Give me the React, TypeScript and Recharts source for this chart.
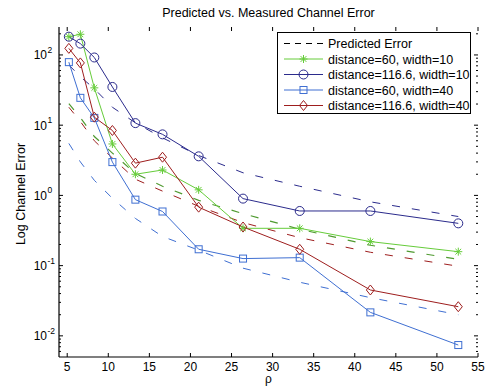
import { LineChart, Line, XAxis, YAxis, Legend } from 'recharts';

const rho = [5.2, 6.6, 8.3, 10.5, 13.3, 16.6, 21, 26.4, 33.3, 41.9, 52.6];

// predicted error curves (dashed)
const predNavy = [72, 49, 33, 18, 10.8, 6.6, 3.7, 2.1, 1.35, 0.81, 0.5];
const predGreen = [20.3, 12.8, 6.9, 4.0, 2.05, 1.35, 0.85, 0.55, 0.33, 0.195, 0.123];
const predRed = [18, 11.3, 6.0, 3.4, 1.7, 1.15, 0.7, 0.41, 0.25, 0.155, 0.098];
const predBlue = [5.5, 3.0, 1.64, 0.91, 0.47, 0.26, 0.166, 0.092, 0.058, 0.035, 0.02];

// measured
const d60w10 = [182, 197, 34, 5.4, 2.0, 2.3, 1.2, 0.34, 0.34, 0.22, 0.158];
const d116w10 = [182, 145, 92, 35, 10.7, 7.4, 3.6, 0.9, 0.6, 0.6, 0.4];
const d60w40 = [79, 24.5, 12.7, 2.98, 0.87, 0.59, 0.171, 0.126, 0.13, 0.0216, 0.0074];
const d116w40 = [124, 77, 13, 8.4, 2.88, 3.5, 0.68, 0.355, 0.171, 0.045, 0.026];

const xTicks = [5, 10, 15, 20, 25, 30, 35, 40, 45, 50, 55];
const yMajor = [0.01, 0.1, 1, 10, 100];
const yMinor = [0.006, 0.007, 0.008, 0.009, 0.02, 0.03, 0.04, 0.05, 0.06, 0.07, 0.08, 0.09,
  0.2, 0.3, 0.4, 0.5, 0.6, 0.7, 0.8, 0.9, 2, 3, 4, 5, 6, 7, 8, 9,
  20, 30, 40, 50, 60, 70, 80, 90, 200];

const legendNames = ['Predicted Error', 'distance=60, width=10', 'distance=116.6, width=10', 'distance=60, width=40', 'distance=116.6, width=40'];

const NAVY = '#2b2b8c';
const GREEN = '#66cc3a';
const GREEN_D = '#4f9a30';
const BLUE = '#3f6fd2';
const RED = '#9e1e1e';
const FONT = 'Liberation Sans, Arial, Helvetica, sans-serif';

const W = 487, H = 386;
const PL = 59, PR = 478, PT = 27, PB = 357;

const data = rho.map((r, i) => ({
  rho: r,
  pNavy: predNavy[i], pGreen: predGreen[i], pRed: predRed[i], pBlue: predBlue[i],
  a: d60w10[i], b: d116w10[i], c: d60w40[i], d: d116w40[i],
}));

function Star({ cx, cy, color, s = 4 }: any) {
  const k = s * 0.72;
  return (
    <g stroke={color} strokeWidth={1}>
      <line x1={cx - s} y1={cy} x2={cx + s} y2={cy} />
      <line x1={cx} y1={cy - s} x2={cx} y2={cy + s} />
      <line x1={cx - k} y1={cy - k} x2={cx + k} y2={cy + k} />
      <line x1={cx - k} y1={cy + k} x2={cx + k} y2={cy - k} />
    </g>
  );
}
function Circ({ cx, cy, color }: any) {
  return <circle cx={cx} cy={cy} r={4.5} fill="none" stroke={color} strokeWidth={1} />;
}
function Sq({ cx, cy, color }: any) {
  return <rect x={cx - 3.5} y={cy - 3.5} width={7} height={7} fill="none" stroke={color} strokeWidth={1} />;
}
function Dia({ cx, cy, color }: any) {
  return <path d={`M${cx},${cy - 5}L${cx + 4},${cy}L${cx},${cy + 5}L${cx - 4},${cy}Z`} fill="none" stroke={color} strokeWidth={1} />;
}

const mk = (Shape: any, color: string) => (p: any) =>
  p.cx == null || p.cy == null ? null : <Shape key={`${p.dataKey}-${p.index}`} cx={p.cx} cy={p.cy} color={color} />;

function XTick({ x, payload }: any) {
  return (
    <g>
      <line x1={x} y1={PB} x2={x} y2={PB - 4} stroke="#000" />
      <line x1={x} y1={PT} x2={x} y2={PT + 4} stroke="#000" />
      <text x={x} y={371} textAnchor="middle" fontSize={12} fontFamily={FONT} fill="#000">{payload.value}</text>
    </g>
  );
}

function YTick({ y, payload }: any) {
  const v = payload.value;
  const e = Math.round(Math.log10(v));
  const major = Math.abs(Math.log10(v) - e) < 1e-6;
  const len = major ? 4 : 2;
  return (
    <g>
      <line x1={PL} y1={y} x2={PL + len} y2={y} stroke="#000" />
      <line x1={PR} y1={y} x2={PR - len} y2={y} stroke="#000" />
      {major && (
        <g fontFamily={FONT} fill="#000">
          <text x={47} y={y + 4.5} textAnchor="end" fontSize={12}>10</text>
          <text x={47.5} y={y - 2} fontSize={8.5}>{e}</text>
        </g>
      )}
    </g>
  );
}

function LegendBox() {
  const rows = [10.5, 26, 41.5, 57, 72.5];
  const colors = ['#000', GREEN, NAVY, BLUE, RED];
  const shapes = [null, Star, Circ, Sq, Dia];
  return (
    <div style={{ width: 194, height: 82, border: '1px solid #000', background: '#fff', boxSizing: 'border-box' }}>
      <svg width={192} height={80} style={{ display: 'block' }}>
        {legendNames.map((n, i) => {
          const S: any = shapes[i];
          return (
            <g key={n}>
              <line x1={6} x2={45} y1={rows[i]} y2={rows[i]} stroke={colors[i]} strokeWidth={1}
                strokeDasharray={i === 0 ? '6 5' : undefined} />
              {S && <S cx={25.5} cy={rows[i]} color={colors[i]} />}
              <text x={50} y={rows[i] + 4.5} fontSize={12.5} fontFamily={FONT} fill="#000">{n}</text>
            </g>
          );
        })}
      </svg>
    </div>
  );
}

export default function App() {
  const dash = '8 12';
  return (
    <div style={{ position: 'absolute', left: 0, top: 0, width: W, height: H, background: '#fff' }}>
      <LineChart width={W} height={H} data={data} margin={{ top: PT, right: W - PR, bottom: 0, left: 0 }}>
        <XAxis dataKey="rho" type="number" domain={[4, 55]} ticks={xTicks} allowDataOverflow
          height={H - PB} tickLine={false} tick={<XTick />} axisLine={{ stroke: '#000', strokeWidth: 1.2 }} interval={0} />
        <XAxis xAxisId="top" orientation="top" type="number" domain={[4, 55]} allowDataOverflow
          height={0} tick={false} tickLine={false} axisLine={{ stroke: '#000' }} />
        <YAxis scale="log" type="number" domain={[0.005, 250]} allowDataOverflow ticks={[...yMajor, ...yMinor]}
          width={PL} tickLine={false} tick={<YTick />} axisLine={{ stroke: '#000', strokeWidth: 1.2 }} interval={0} />
        <YAxis yAxisId="right" orientation="right" scale="log" type="number" domain={[0.005, 250]} allowDataOverflow
          width={0} tick={false} tickLine={false} axisLine={{ stroke: '#000' }} />

        <Line dataKey="pNavy" stroke={NAVY} strokeDasharray={dash} dot={false} isAnimationActive={false} strokeWidth={1} />
        <Line dataKey="pGreen" stroke={GREEN_D} strokeDasharray={dash} dot={false} isAnimationActive={false} strokeWidth={1.2} />
        <Line dataKey="pRed" stroke={RED} strokeDasharray={dash} dot={false} isAnimationActive={false} strokeWidth={1} />
        <Line dataKey="pBlue" stroke={BLUE} strokeDasharray={dash} dot={false} isAnimationActive={false} strokeWidth={1} />

        <Line dataKey="a" stroke={GREEN} dot={mk(Star, GREEN)} isAnimationActive={false} strokeWidth={1} />
        <Line dataKey="b" stroke={NAVY} dot={mk(Circ, NAVY)} isAnimationActive={false} strokeWidth={1} />
        <Line dataKey="c" stroke={BLUE} dot={mk(Sq, BLUE)} isAnimationActive={false} strokeWidth={1} />
        <Line dataKey="d" stroke={RED} dot={mk(Dia, RED)} isAnimationActive={false} strokeWidth={1} />

        <Legend layout="vertical" align="center" verticalAlign="middle" content={() => <LegendBox />}
          wrapperStyle={{ position: 'absolute', left: 277, top: 32, width: 194, height: 82 }} />

        <text x={(PL + PR) / 2} y={17} textAnchor="middle" fontSize={12.5} fontFamily={FONT} fill="#000">
          Predicted vs. Measured Channel Error
        </text>
        <text x={25} y={194} transform="rotate(-90 25 194)" textAnchor="middle" fontSize={12.5} fontFamily={FONT} fill="#000">
          Log Channel Error
        </text>
        <text x={(PL + PR) / 2} y={383} textAnchor="middle" fontSize={12} fontFamily={FONT} fill="#000">ρ</text>
      </LineChart>
    </div>
  );
}
